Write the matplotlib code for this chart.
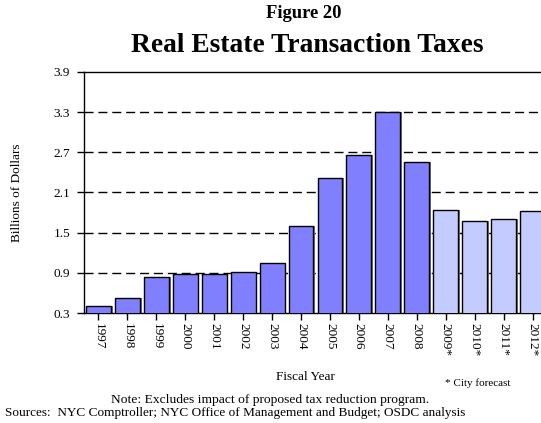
import numpy as np
import matplotlib
matplotlib.use("Agg")
import matplotlib.pyplot as plt

plt.rcParams['font.family'] = ['Liberation Serif', 'DejaVu Serif']

# 数据
years = ["1997", "1998", "1999", "2000", "2001", "2002", "2003", "2004",
         "2005", "2006", "2007", "2008", "2009*", "2010*", "2011*", "2012*"]
actual = [0.41, 0.52, 0.84, 0.89, 0.89, 0.91, 1.05, 1.60,
          2.31, 2.66, 3.30, 2.55]
forecast = [1.84, 1.67, 1.70, 1.82]
yticks = [0.3, 0.9, 1.5, 2.1, 2.7, 3.3, 3.9]

fig = plt.figure(figsize=(5.41, 4.23), dpi=100)
ax = fig.add_axes([84 / 541, 1 - 313 / 423, 463 / 541, 241 / 423])

x = np.arange(len(years))
values = actual + forecast
colors = ['#8080ff'] * len(actual) + ['#c4ccff'] * len(forecast)

# 灰色阴影
ax.bar(x + 0.06, values, width=0.86, color='#777777', zorder=2)
ax.bar(x, values, width=0.86, color=colors, edgecolor='black', linewidth=1.0, zorder=3)

ax.set_xlim(-0.5, len(years) - 0.5)
ax.set_ylim(0.3, 3.9)
ax.set_yticks(yticks)
ax.set_yticklabels(["{:.1f}".format(v) for v in yticks], fontsize=9.5)
ax.set_xticks(x)
ax.set_xticklabels(years, rotation=270, fontsize=9.5)

for v in yticks[1:-1]:
    ax.axhline(v, color='black', linewidth=1.0, dashes=(6.5, 3.5), zorder=1)

ax.spines['right'].set_visible(False)
for s in ['left', 'bottom', 'top']:
    ax.spines[s].set_linewidth(1.0)
ax.tick_params(axis='both', direction='out', length=5, width=1.0, pad=2)
ax.tick_params(axis='y', pad=5)

ax.set_ylabel("Billions of Dollars", fontsize=9.5, labelpad=22)

fig.text(304 / 541, 1 - 14 / 423, "Figure 20", ha='center', va='center',
         fontsize=13.4, fontweight='bold')
fig.text(307 / 541, 1 - 45 / 423, "Real Estate Transaction Taxes", ha='center',
         va='center', fontsize=19.8, fontweight='bold')
fig.text(305 / 541, 1 - 377 / 423, "Fiscal Year", ha='center', va='center', fontsize=9.5)
fig.text(478 / 541, 1 - 383 / 423, "* City forecast", ha='center', va='center', fontsize=8)
fig.text(270 / 541, 1 - 400 / 423, "Note: Excludes impact of proposed tax reduction program.",
         ha='center', va='center', fontsize=9.7)
fig.text(235 / 541, 1 - 413 / 423,
         "Sources:  NYC Comptroller; NYC Office of Management and Budget; OSDC analysis",
         ha='center', va='center', fontsize=9.5)

fig.savefig("out.png", dpi=100)
